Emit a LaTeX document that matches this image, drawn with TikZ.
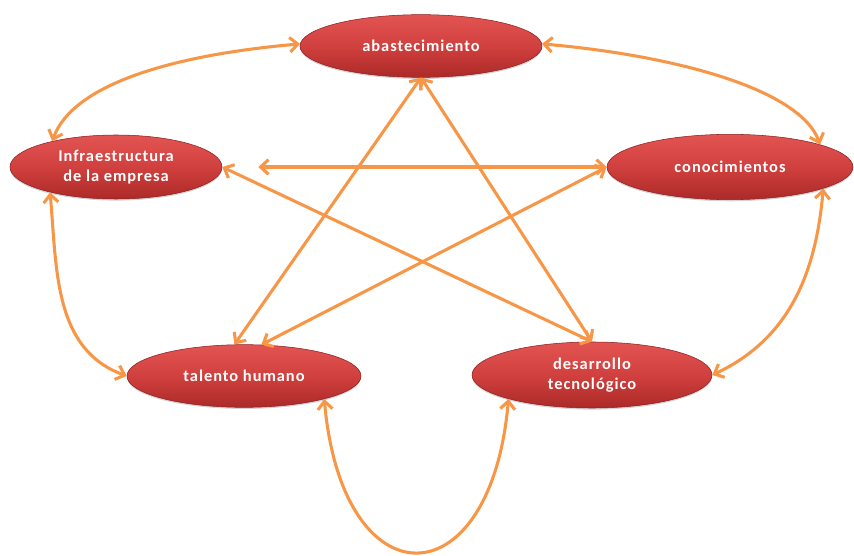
\documentclass[tikz,border=0pt]{standalone}
\usepackage{fontspec}
\setmainfont{Carlito}
\newfontfamily\labelfont[LetterSpace=6]{Carlito}
\usetikzlibrary{arrows.meta,shapes.geometric,shadows}

\definecolor{linkorange}{RGB}{247,150,70}
\definecolor{blobtop}{RGB}{226,84,82}
\definecolor{blobmid}{RGB}{208,64,62}
\definecolor{blobbot}{RGB}{172,42,40}
\definecolor{blobedge}{RGB}{140,32,32}

\begin{document}
\begin{tikzpicture}[x=0.75pt,y=0.75pt,
  blob/.style={ellipse, inner sep=0pt,
    top color=blobtop, bottom color=blobbot, middle color=blobmid,
    draw=blobedge, line width=0.4pt,
    drop shadow={shadow xshift=0pt, shadow yshift=-1.2pt, opacity=0.35},
    text=white, align=center,
    font=\labelfont\bfseries\fontsize{12.3}{15.5}\selectfont},
  link/.style={draw=linkorange, line width=2.3pt,
    {Straight Barb[length=6pt,width=11pt]}-{Straight Barb[length=6pt,width=11pt]}}
]
\useasboundingbox (0,0) rectangle (854,-556);

% the five areas
\node[blob, minimum width=181.5pt, minimum height=47pt] (abast)   at (421,-46)  {abastecimiento};
\node[blob, minimum width=159pt,   minimum height=48pt] (infra)   at (116,-167) {Infraestructura\\de la empresa};
\node[blob, minimum width=184.5pt, minimum height=49pt] (conoc)   at (730,-167) {conocimientos};
\node[blob, minimum width=175.5pt, minimum height=47pt] (talento) at (244,-376) {talento humano};
\node[blob, minimum width=180pt,   minimum height=49.5pt] (desarr) at (592,-375) {desarrollo\\tecnológico};

% outer ring of curved links
\draw[link] (abast.179) .. controls +(185:130) and +(70:60) .. (infra.158);
\draw[link] (abast.1) .. controls +(-5:130) and +(110:60) .. (conoc.14);
\draw[link] (infra.201) to[out=-85,in=160] (talento.west);
\draw[link] (conoc.-13) to[out=-95,in=25] (desarr.east);
\draw[link] (talento.-16) .. controls +(-85:205) and +(-95:205) .. (desarr.196);

% inner star of straight links
\draw[link] (abast.south) -- (talento.107);
\draw[link] (abast.south) -- (desarr.north);
\draw[link] (infra.east) -- (desarr.north);
\draw[link] (conoc.west) -- (talento.61);
\draw[link, shorten >=27pt] (conoc.west) -- (infra.east);
\end{tikzpicture}
\end{document}
